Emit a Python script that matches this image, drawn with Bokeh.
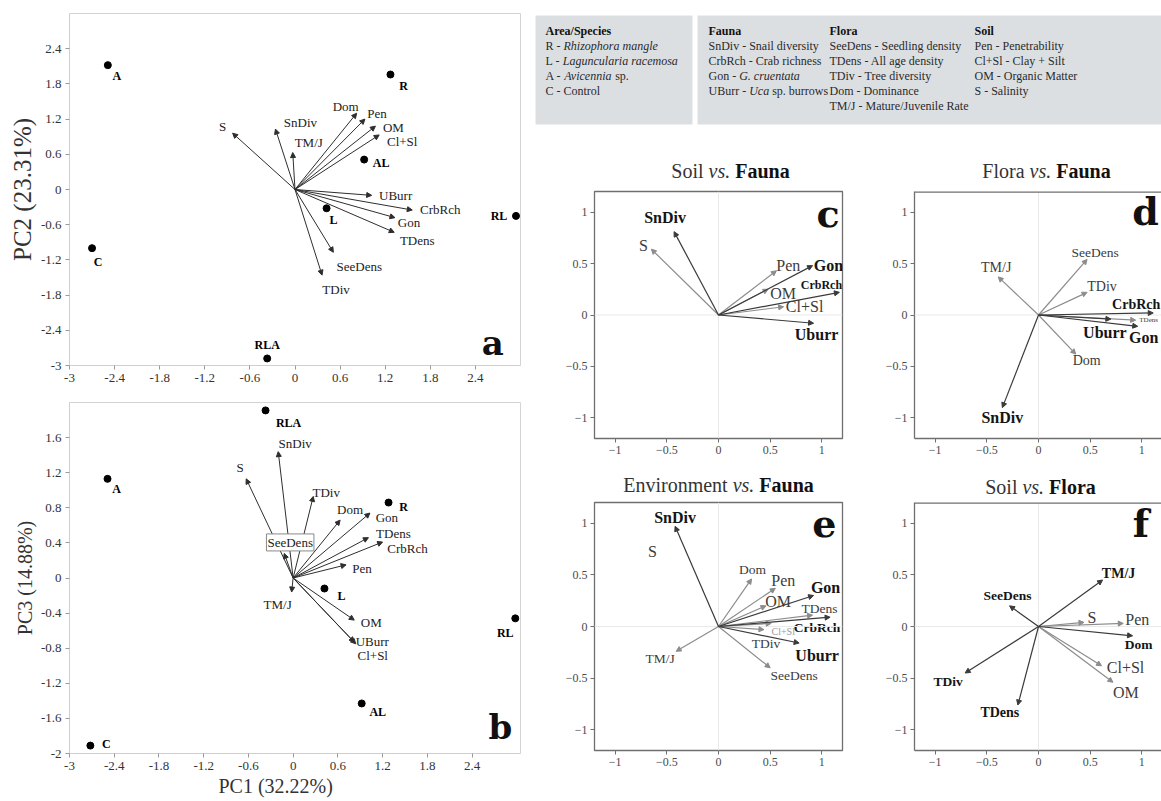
import math
from bokeh.plotting import figure
from bokeh.layouts import row, column
from bokeh.models import (ColumnDataSource, Range1d, Arrow, NormalHead, Label, Title,
                          FixedTicker, CustomJSTickFormatter, Span)
from bokeh.core.properties import value
from bokeh.embed import file_html
from bokeh.resources import INLINE

SERIF = "Liberation Serif"

# ----------------------------- data -----------------------------
site_names = ["A", "C", "RLA", "R", "AL", "L", "RL"]
a_site_pc1 = [-2.49, -2.70, -0.37, 1.27, 0.92, 0.42, 2.94]
a_site_pc2 = [2.12, -1.00, -2.88, 1.96, 0.51, -0.32, -0.45]
b_site_pc1 = [-2.49, -2.72, -0.37, 1.28, 0.92, 0.42, 2.98]
b_site_pc3 = [1.13, -1.91, 1.91, 0.86, -1.43, -0.12, -0.46]

a_vars = ["S", "SnDiv", "TM/J", "Dom", "Pen", "OM", "Cl+Sl", "UBurr", "CrbRch", "Gon", "TDens", "SeeDens", "TDiv"]
a_var_pc1 = [-0.83, -0.26, -0.03, 0.82, 0.93, 1.07, 1.12, 1.02, 1.56, 1.33, 1.32, 0.51, 0.36]
a_var_pc2 = [0.96, 1.03, 0.63, 1.30, 1.20, 1.08, 0.93, -0.10, -0.35, -0.48, -0.73, -1.07, -1.46]

b_vars = ["SnDiv", "S", "TDiv", "Dom", "Gon", "TDens", "CrbRch", "Pen", "SeeDens", "TM/J", "OM", "UBurr", "Cl+Sl"]
b_var_pc1 = [-0.20, -0.63, 0.27, 0.63, 1.03, 1.01, 1.20, 0.71, -0.12, -0.02, 0.82, 0.82, 0.84]
b_var_pc3 = [1.44, 1.13, 0.93, 0.66, 0.74, 0.46, 0.41, 0.15, 0.28, -0.16, -0.48, -0.73, -0.75]

c_vars = ["SnDiv", "S", "Pen", "Gon", "OM", "CrbRch", "Cl+Sl", "Uburr"]
c_x = [-0.43, -0.65, 0.56, 0.91, 0.48, 1.17, 0.63, 0.92]
c_y = [0.81, 0.64, 0.43, 0.48, 0.25, 0.22, 0.08, -0.08]

d_vars = ["SeeDens", "TM/J", "TDiv", "CrbRch", "TDens", "Uburr", "Gon", "Dom", "SnDiv"]
d_x = [0.47, -0.39, 0.47, 1.11, 0.94, 0.70, 0.96, 0.36, -0.35]
d_y = [0.54, 0.37, 0.22, 0.02, -0.05, -0.04, -0.11, -0.38, -0.90]

e_vars = ["SnDiv", "Dom", "Pen", "Gon", "OM", "TDens", "CrbRch", "Cl+Sl", "TDiv", "Uburr", "SeeDens", "TM/J"]
e_x = [-0.42, 0.32, 0.55, 0.92, 0.46, 0.91, 1.08, 0.51, 0.44, 0.78, 0.50, -0.41]
e_y = [0.97, 0.46, 0.37, 0.30, 0.20, 0.11, 0.09, 0.03, -0.03, -0.16, -0.40, -0.24]
e_label_only = ["S"]
e_label_only_x = [-0.64]
e_label_only_y = [0.73]

f_vars = ["TM/J", "SeeDens", "S", "Pen", "Dom", "Cl+Sl", "OM", "TDiv", "TDens"]
f_x = [0.62, -0.28, 0.44, 0.82, 0.91, 0.61, 0.72, -0.71, -0.20]
f_y = [0.45, 0.20, 0.04, 0.03, -0.09, -0.38, -0.54, -0.45, -0.76]

fauna_group = ["SnDiv", "CrbRch", "Gon", "Uburr", "UBurr"]
flora_group = ["SeeDens", "TDens", "TDiv", "Dom", "TM/J"]

a_x_ticks = [-3, -2.4, -1.8, -1.2, -0.6, 0, 0.6, 1.2, 1.8, 2.4]
a_y_ticks = [-3, -2.4, -1.8, -1.2, -0.6, 0, 0.6, 1.2, 1.8, 2.4]
b_y_ticks = [-2, -1.6, -1.2, -0.8, -0.4, 0, 0.4, 0.8, 1.2, 1.6]
biplot_ticks = [-1, -0.5, 0, 0.5, 1]

legend_area = [[("Area/Species", "bold")],
               [("R - ", "normal"), ("Rhizophora mangle", "italic")],
               [("L - ", "normal"), ("Laguncularia racemosa", "italic")],
               [("A - ", "normal"), ("Avicennia", "italic"), (" sp.", "normal")],
               [("C - Control", "normal")]]
legend_fauna = [[("Fauna", "bold")],
                [("SnDiv - Snail diversity", "normal")],
                [("CrbRch - Crab richness", "normal")],
                [("Gon - ", "normal"), ("G. cruentata", "italic")],
                [("UBurr - ", "normal"), ("Uca", "italic"), (" sp. burrows", "normal")]]
legend_flora = [[("Flora", "bold")],
                [("SeeDens - Seedling density", "normal")],
                [("TDens - All age density", "normal")],
                [("TDiv - Tree diversity", "normal")],
                [("Dom - Dominance", "normal")],
                [("TM/J - Mature/Juvenile Rate", "normal")]]
legend_soil = [[("Soil", "bold")],
               [("Pen - Penetrability", "normal")],
               [("Cl+Sl - Clay + Silt", "normal")],
               [("OM - Organic Matter", "normal")],
               [("S - Salinity", "normal")]]

title_c = [("Soil", "normal"), ("vs.", "italic"), ("Fauna", "bold")]
title_d = [("Flora", "normal"), ("vs.", "italic"), ("Fauna", "bold")]
title_e = [("Environment", "normal"), ("vs.", "italic"), ("Fauna", "bold")]
title_f = [("Soil", "normal"), ("vs.", "italic"), ("Flora", "bold")]

# ----------------------- label placement (px, down positive) -----------------------
a_site_off = [(9, 11), (6, 14), (0, -13), (13, 11), (17, 3), (7, 12), (-17, 0)]
b_site_off = [(9, 10), (16, -2), (23, 13), (15, 4), (16, 9), (17, 7), (-10, 15)]
a_var_off = [(-10, -7), (25, -7), (16, -10), (-11, -7), (12, -6), (18, 1), (23, 7), (24, 0),
             (28, -1), (14, 5), (23, 8), (26, 14), (14, 14)]
b_var_off = [(17, -8), (-6, -11), (13, -4), (10, -11), (17, 4), (25, -4), (25, 6), (16, 4),
             (6, -11), (-14, 12), (17, 2), (18, -1), (17, 12)]
c_off = [(-9, -14), (-8, -4), (12, -5), (16, 0), (15, 4), (-18, -7), (21, 0), (3, 11)]
c_size = [16, 16, 16, 16, 16, 12, 16, 16]
d_off = [(8, -7), (-2, -9), (15, -6), (-17, -8), (13, 0), (-6, 13), (6, 11), (11, 6), (0, 10)]
d_size = [13.5, 14, 14, 14, 7, 16, 16, 14, 16]
e_off = [(0, -9), (1, -9), (8, -8), (12, -8), (12, -4), (7, -7), (-13, 10), (12, 8), (2, 14),
         (18, 12), (24, 8), (-16, 7)]
e_size = [16, 13.5, 16, 16, 16, 13.5, 13.5, 10, 13.5, 16, 13.5, 13.5]
f_off = [(16, -7), (-2, -10), (8, -5), (14, -4), (6, 9), (24, 2), (13, 10), (-17, 8), (-18, 7)]
f_size = [14, 13.5, 16, 16, 13.5, 16, 16, 13.5, 14]

DARK = "#3a3a3a"
LIGHT = "#8c8c8c"
BOLDC = "#151515"
NORMC = "#3c3c3c"

# ----------------------- text metrics (Times) -----------------------
def _mk(upper, lower):
    d = {c: w for c, w in zip("ABCDEFGHIJKLMNOPQRSTUVWXYZ", upper)}
    d.update({c: w for c, w in zip("abcdefghijklmnopqrstuvwxyz", lower)})
    d.update({" ": 250, "-": 333, ".": 250, "/": 278, "+": 564, "%": 833, "(": 333, ")": 333})
    d.update({str(i): 500 for i in range(10)})
    return d

METRICS = {
    "normal": _mk([722, 667, 667, 722, 611, 556, 722, 722, 333, 389, 722, 611, 889, 722, 722, 556, 722, 667, 556, 611, 722, 722, 944, 722, 722, 611],
                  [444, 500, 444, 500, 444, 333, 500, 500, 278, 278, 500, 278, 778, 500, 500, 500, 500, 333, 389, 278, 500, 500, 722, 500, 500, 444]),
    "italic": _mk([611, 611, 667, 722, 611, 611, 722, 722, 333, 444, 667, 556, 833, 667, 722, 611, 722, 611, 500, 556, 722, 611, 833, 611, 556, 556],
                  [500, 500, 444, 500, 444, 278, 500, 500, 278, 278, 444, 278, 722, 500, 500, 500, 500, 389, 389, 278, 500, 444, 667, 444, 444, 389]),
    "bold": _mk([722, 667, 722, 722, 667, 611, 778, 778, 389, 500, 778, 667, 944, 722, 778, 611, 778, 722, 556, 667, 722, 722, 1000, 722, 722, 667],
                [500, 556, 444, 556, 444, 333, 500, 556, 278, 333, 556, 278, 833, 556, 500, 556, 556, 444, 389, 333, 556, 500, 722, 500, 500, 444]),
}


def tw(s, style, size):
    t = METRICS[style]
    return sum(t.get(ch, 500) for ch in s) * size / 1000.0


# ----------------------- helpers -----------------------
def add_labels(p, xs, ys, texts, offs, sizes, styles, colors):
    src = ColumnDataSource(dict(x=list(xs), y=list(ys), t=list(texts),
                                xo=[o[0] for o in offs], yo=[o[1] for o in offs],
                                fs=["%spx" % s for s in sizes], st=list(styles), c=list(colors)))
    p.text(x="x", y="y", text="t", x_offset="xo", y_offset="yo", text_font=value(SERIF),
           text_font_size="fs", text_font_style="st", text_color="c",
           text_align="center", text_baseline="middle", source=src)


def add_arrows(p, xs, ys, color, width=1.0, head=5):
    if not xs:
        return
    src = ColumnDataSource(dict(x0=[0] * len(xs), y0=[0] * len(xs), x1=list(xs), y1=list(ys)))
    p.add_layout(Arrow(end=NormalHead(size=head, fill_color=color, line_color=color, line_width=1),
                       x_start="x0", y_start="y0", x_end="x1", y_end="y1", source=src,
                       line_color=color, line_width=width))


def letter(p, x, y, text, size):
    p.add_layout(Label(x=x, y=y, text=text, text_font="DejaVu Serif", text_font_size="%spx" % size,
                       text_font_style="bold", text_color="#111111", text_align="center",
                       text_baseline="alphabetic"))


def seg_text(p, items, size, color_normal="#2a2a2a", color_bold="#111111"):
    """items: list of (x_left, y, text, style) in the figure's own page-pixel coordinates"""
    xs, ys, ts, sts, cs = [], [], [], [], []
    for x, y, t, s in items:
        lead = len(t) - len(t.lstrip(" "))
        xs.append(x + tw(t[:lead], s, size))
        ys.append(y)
        ts.append(t.strip(" "))
        sts.append(s)
        cs.append(color_bold if s == "bold" else color_normal)
    p.text(x=xs, y=ys, text=ts, text_font_style=sts, text_color=cs, text_font=value(SERIF),
           text_font_size="%spx" % size, text_align="left", text_baseline="middle")


def title_items(cx, cy, segs, size):
    gap = tw(" ", "normal", size)
    widths = [tw(t, s, size) for t, s in segs]
    total = sum(widths) + gap * (len(segs) - 1)
    x = cx - total / 2.0
    out = []
    for (t, s), w in zip(segs, widths):
        out.append((x, cy, t, s))
        x += w + gap
    return out


def pca_fig(width, height, xr, yr, xt, yt, mb):
    p = figure(width=width, height=height, x_range=Range1d(*xr), y_range=Range1d(*yr),
               output_backend="svg", toolbar_location=None,
               min_border_left=mb[0], min_border_right=mb[1], min_border_top=mb[2], min_border_bottom=mb[3])
    p.grid.visible = False
    p.outline_line_color = "#d4d4d4"
    p.background_fill_color = "white"
    p.border_fill_color = "white"
    p.xaxis.ticker = FixedTicker(ticks=xt)
    p.yaxis.ticker = FixedTicker(ticks=yt)
    fmt = CustomJSTickFormatter(code="return String(Math.round(tick*10)/10);")
    for ax in p.axis:
        ax.formatter = fmt
        ax.axis_line_color = "#cfcfcf"
        ax.major_tick_line_color = "#9a9a9a"
        ax.major_tick_out = 4
        ax.major_tick_in = 0
        ax.minor_tick_line_color = None
        ax.major_label_text_font = SERIF
        ax.major_label_text_font_size = "13px"
        ax.major_label_text_color = "#333333"
        ax.major_label_standoff = 4
        ax.axis_label_text_font = SERIF
        ax.axis_label_text_font_style = "normal"
        ax.axis_label_text_color = "#333333"
        ax.axis_label_standoff = 2
    return p


def biplot_fig(width, height, xr, mb, cut):
    p = figure(width=width, height=height, x_range=Range1d(*xr), y_range=Range1d(-1.2, 1.2),
               output_backend="svg", toolbar_location=None,
               min_border_left=mb[0], min_border_right=mb[1], min_border_top=mb[2], min_border_bottom=mb[3])
    p.grid.visible = False
    p.background_fill_color = "white"
    p.border_fill_color = "white"
    frame_col = "#6f6f6f"
    p.xaxis.ticker = FixedTicker(ticks=biplot_ticks)
    p.yaxis.ticker = FixedTicker(ticks=biplot_ticks)
    fmt = CustomJSTickFormatter(code="var v = Math.round(tick*10)/10; return v < 0 ? '\\u2212' + String(-v) : String(v);")
    for ax in p.axis:
        ax.formatter = fmt
        ax.major_tick_line_color = frame_col
        ax.major_tick_out = 4
        ax.major_tick_in = 0
        ax.minor_tick_line_color = None
        ax.major_label_text_font = SERIF
        ax.major_label_text_font_size = "12px"
        ax.major_label_text_color = "#4a4a4a"
        ax.major_label_standoff = 3
    p.add_layout(Span(location=0, dimension="width", line_color="#e9e9e9", line_width=1))
    p.add_layout(Span(location=0, dimension="height", line_color="#e9e9e9", line_width=1))
    if cut:
        p.outline_line_color = None
        for ax in p.axis:
            ax.axis_line_color = frame_col
            ax.axis_line_width = 1.3
        p.add_layout(Span(location=1.2, dimension="width", line_color=frame_col, line_width=2.6))
    else:
        p.outline_line_color = frame_col
        p.outline_line_width = 1.3
        for ax in p.axis:
            ax.axis_line_color = None
    return p


def draw_biplot(p, names, xs, ys, response, offs, sizes, color_over=None):
    resp = [n in response for n in names]
    add_arrows(p, [x for x, r in zip(xs, resp) if not r], [y for y, r in zip(ys, resp) if not r], LIGHT, 1.2, 5)
    add_arrows(p, [x for x, r in zip(xs, resp) if r], [y for y, r in zip(ys, resp) if r], DARK, 1.2, 5)
    styles = ["bold" if r else "normal" for r in resp]
    colors = [BOLDC if r else NORMC for r in resp]
    if color_over:
        for i, n in enumerate(names):
            if n in color_over:
                colors[i] = color_over[n]
    add_labels(p, xs, ys, names, offs, sizes, styles, colors)


# ----------------------- panel a -----------------------
fa = pca_fig(530, 395, (-3, 3), (-3, 3), a_x_ticks, a_y_ticks, (69, 10, 13, 30))
fa.yaxis.axis_label = "PC2 (23.31%)"
fa.yaxis.axis_label_text_font_size = "25px"
add_arrows(fa, a_var_pc1, a_var_pc2, "#2e2e2e", 1.0, 5)
fa.scatter(a_site_pc1, a_site_pc2, size=7, color="black")
add_labels(fa, a_var_pc1, a_var_pc2, a_vars, a_var_off, [13] * len(a_vars), ["normal"] * len(a_vars), ["#222222"] * len(a_vars))
add_labels(fa, a_site_pc1, a_site_pc2, site_names, a_site_off, [12] * 7, ["bold"] * 7, ["#000000"] * 7)
letter(fa, 2.63, -2.61, "a", 34)

# ----------------------- panel b -----------------------
fb = pca_fig(530, 406, (-3, 3.05), (-2, 2), a_x_ticks, b_y_ticks, (69, 10, 7, 48))
fb.yaxis.axis_label = "PC3 (14.88%)"
fb.yaxis.axis_label_text_font_size = "20px"
fb.add_layout(Title(text="PC1 (32.22%)", align="left", offset=149, text_font=SERIF, text_font_size="20px",
                    text_font_style="normal", text_color="#333333", standoff=0), "below")
add_arrows(fb, b_var_pc1, b_var_pc3, "#2e2e2e", 1.0, 5)
fb.scatter(b_site_pc1, b_site_pc3, size=7, color="black")
plain = [i for i, n in enumerate(b_vars) if n != "SeeDens"]
add_labels(fb, [b_var_pc1[i] for i in plain], [b_var_pc3[i] for i in plain], [b_vars[i] for i in plain],
           [b_var_off[i] for i in plain], [13] * len(plain), ["normal"] * len(plain), ["#222222"] * len(plain))
k = b_vars.index("SeeDens")
fb.add_layout(Label(x=b_var_pc1[k], y=b_var_pc3[k], x_offset=b_var_off[k][0], y_offset=-b_var_off[k][1],
                    text="SeeDens", text_font=SERIF, text_font_size="13px", text_color="#222222",
                    text_align="center", text_baseline="middle", background_fill_color="white",
                    border_line_color="#8a8a8a", border_line_width=1, padding=1))
add_labels(fb, b_site_pc1, b_site_pc3, site_names, b_site_off, [12] * 7, ["bold"] * 7, ["#000000"] * 7)
letter(fb, 2.78, -1.70, "b", 34)

# ----------------------- top strip: legend boxes + titles c/d -----------------------
top = figure(width=631, height=189, x_range=Range1d(530, 1161), y_range=Range1d(189, 0),
             output_backend="svg", toolbar_location=None, x_axis_location=None, y_axis_location=None,
             min_border=0)
top.grid.visible = False
top.outline_line_color = None
top.background_fill_color = "white"
top.border_fill_color = "white"
top.quad(left=[535, 697], right=[692, 1175], top=[15, 15], bottom=[124, 124], fill_color="#dcdfe2", line_color=None)
LS = 12
items = []
for x0, block in ((545, legend_area), (708, legend_fauna), (829, legend_flora), (974, legend_soil)):
    for i, segs in enumerate(block):
        x = x0
        for t, s in segs:
            items.append((x, 30.5 + 15 * i, t, s))
            x += tw(t, s, LS)
seg_text(top, items, LS)
seg_text(top, title_items(730, 170, title_c, 20) + title_items(1046, 170.7, title_d, 20), 20,
         color_normal="#333333", color_bold="#111111")

# ----------------------- panels c/d -----------------------
fc = biplot_fig(350, 273, (-1.2, 1.2), (64, 38, 2, 24), False)
draw_biplot(fc, c_vars, c_x, c_y, fauna_group, c_off, c_size)
letter(fc, 1.06, 0.984, "c", 38)

fd = biplot_fig(281, 273, (-1.2, 1.19), (34, 0, 2, 24), True)
draw_biplot(fd, d_vars, d_x, d_y, fauna_group, d_off, d_size)
letter(fd, 1.035, 1.01, "d", 38)

# ----------------------- middle strip: titles e/f -----------------------
mid = figure(width=631, height=38, x_range=Range1d(530, 1161), y_range=Range1d(500, 462),
             output_backend="svg", toolbar_location=None, x_axis_location=None, y_axis_location=None,
             min_border=0)
mid.grid.visible = False
mid.outline_line_color = None
mid.background_fill_color = "white"
mid.border_fill_color = "white"
seg_text(mid, title_items(718, 484.3, title_e, 20) + title_items(1040, 486.7, title_f, 20), 20,
         color_normal="#333333", color_bold="#111111")

# ----------------------- panels e/f -----------------------
fe = biplot_fig(350, 301, (-1.2, 1.2), (64, 38, 2, 51), False)
draw_biplot(fe, e_vars, e_x, e_y, fauna_group, e_off, e_size, color_over={"Cl+Sl": "#9a9a9a"})
add_labels(fe, e_label_only_x, e_label_only_y, e_label_only, [(0, 0)], [16], ["normal"], [NORMC])
letter(fe, 1.025, 1.0, "e", 38)

ff = biplot_fig(281, 301, (-1.2, 1.19), (34, 0, 2, 51), True)
draw_biplot(ff, f_vars, f_x, f_y, flora_group, f_off, f_size)
letter(ff, 0.99, 0.995, "f", 38)

layout = row(column(fa, fb, spacing=0),
             column(top, row(fc, fd, spacing=0), mid, row(fe, ff, spacing=0), spacing=0),
             spacing=0)

with open("out.html", "w", encoding="utf-8") as fh:
    fh.write(file_html(layout, INLINE))
